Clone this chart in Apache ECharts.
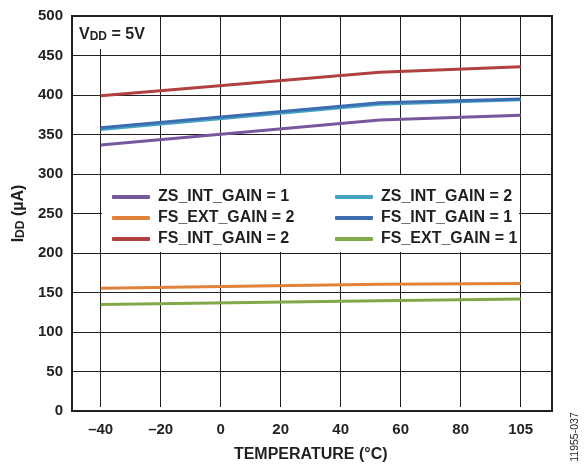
<!DOCTYPE html>
<html>
<head>
<meta charset="utf-8">
<script src="https://cdn.jsdelivr.net/npm/echarts@6/dist/echarts.min.js"></script>
<style>
  html, body { margin: 0; padding: 0; background: #fff; }
  #chart { width: 588px; height: 468px; }
</style>
</head>
<body>
<div id="chart"></div>
<script>
///////////////////////////////////////////////////
// Data
///////////////////////////////////////////////////

// x positions on the temperature axis (the last slot is labelled 105)
const tempPoints = [-40, 53, 100];
const xTickValues = [-40, -20, 0, 20, 40, 60, 80, 100];
const xTickLabels = ['–40', '–20', '0', '20', '40', '60', '80', '105'];

// I_DD in µA
const zsIntGain1 = [335, 367, 373];
const zsIntGain2 = [355, 387, 393];
const fsExtGain2 = [152, 157, 158];
const fsIntGain1 = [357, 389, 394];
const fsIntGain2 = [398, 428, 435];
const fsExtGain1 = [131, 136, 138];

const seriesNames = [
  'ZS_INT_GAIN = 1', 'ZS_INT_GAIN = 2',
  'FS_EXT_GAIN = 2', 'FS_INT_GAIN = 1',
  'FS_INT_GAIN = 2', 'FS_EXT_GAIN = 1',
];

///////////////////////////////////////////////////
// Chart
///////////////////////////////////////////////////
const ink = '#231f20';
const font = '"Liberation Sans", Arial, sans-serif';
const colors = {
  'ZS_INT_GAIN = 1': '#77589d',
  'ZS_INT_GAIN = 2': '#46a3c3',
  'FS_EXT_GAIN = 2': '#e0823a',
  'FS_INT_GAIN = 1': '#3d6db0',
  'FS_INT_GAIN = 2': '#b0413e',
  'FS_EXT_GAIN = 1': '#83a84a',
};

const pairs = ys => ys.map((y, i) => [tempPoints[i], y]);
const lineSeries = (name, ys) => ({
  name: name,
  type: 'line',
  xAxisIndex: 0,
  yAxisIndex: 0,
  data: pairs(ys),
  symbol: 'none',
  lineStyle: { width: 3, color: colors[name] },
  itemStyle: { color: colors[name] },
  z: 2,
});

const legendBase = {
  orient: 'vertical',
  top: 189,
  padding: 0,
  itemGap: 5,
  itemWidth: 38,
  itemHeight: 4,
  icon: 'roundRect',
  textStyle: { fontFamily: font, fontWeight: 'bold', fontSize: 16, color: ink, lineHeight: 16, padding: [0, 0, 0, 3] },
  selectedMode: false,
  z: 6,
};

const myChart = echarts.init(document.getElementById('chart'), null, { renderer: 'canvas' });

myChart.setOption({
  animation: false,
  backgroundColor: '#fff',
  grid: [
    // data grid: spans the -40 .. 105 gridlines
    { left: 100.7, right: 67.3, top: 16, bottom: 57, containLabel: false },
    // frame grid: box and y axis
    { left: 72, right: 36, top: 16, bottom: 57, show: true, borderColor: ink, borderWidth: 2, backgroundColor: 'transparent' },
  ],
  xAxis: [
    {
      gridIndex: 0,
      type: 'value',
      min: -40,
      max: 100,
      interval: 20,
      axisLine: { show: false },
      axisTick: { show: false },
      splitLine: { show: true, lineStyle: { color: ink, width: 1 } },
      axisLabel: {
        margin: 15,
        fontFamily: font,
        fontWeight: 'bold',
        fontSize: 15,
        color: ink,
        formatter: v => xTickLabels[xTickValues.indexOf(v)],
      },
      name: 'TEMPERATURE (°C)',
      nameLocation: 'middle',
      nameGap: 40,
      nameTextStyle: { fontFamily: font, fontWeight: 'bold', fontSize: 16, color: ink },
    },
    { gridIndex: 1, type: 'value', min: 0, max: 1, show: false },
  ],
  yAxis: [
    { gridIndex: 0, type: 'value', min: 0, max: 500, show: false },
    {
      gridIndex: 1,
      type: 'value',
      min: 0,
      max: 500,
      interval: 50,
      axisLine: { show: false },
      axisTick: { show: false },
      splitLine: { show: true, lineStyle: { color: ink, width: 1 } },
      axisLabel: { margin: 9, fontFamily: font, fontWeight: 'bold', fontSize: 15, color: ink },
      name: '{a|I}{b|DD}{a| (µA)}',
      nameLocation: 'middle',
      nameRotate: 90,
      nameGap: 42,
      nameTextStyle: {
        rich: {
          a: { fontFamily: font, fontWeight: 'bold', fontSize: 16, color: ink, lineHeight: 20, verticalAlign: 'bottom' },
          b: { fontFamily: font, fontWeight: 'bold', fontSize: 12, color: ink, lineHeight: 12, verticalAlign: 'bottom' },
        },
      },
    },
  ],
  legend: [
    Object.assign({}, legendBase, { left: 112, data: [seriesNames[0], seriesNames[2], seriesNames[4]] }),
    Object.assign({}, legendBase, { left: 335, data: [seriesNames[1], seriesNames[3], seriesNames[5]] }),
  ],
  graphic: [
    // white patch behind the legend
    { type: 'rect', shape: { x: 102, y: 175, width: 417, height: 77 }, style: { fill: '#fff' }, z: 3 },
    // VDD note
    { type: 'rect', shape: { x: 73, y: 17, width: 86, height: 32 }, style: { fill: '#fff' }, z: 3 },
    {
      type: 'text',
      x: 79,
      y: 33,
      z: 4,
      style: {
        text: '{a|V}{b|DD}{a| = 5V}',
        textVerticalAlign: 'middle',
        rich: {
          a: { fontFamily: font, fontWeight: 'bold', fontSize: 16, fill: ink, lineHeight: 20, verticalAlign: 'bottom' },
          b: { fontFamily: font, fontWeight: 'bold', fontSize: 12, fill: ink, lineHeight: 12, verticalAlign: 'bottom' },
        },
      },
    },
    {
      type: 'text',
      x: 575,
      y: 437,
      rotation: Math.PI / 2,
      style: { text: '11955-037', fontFamily: font, fontSize: 10.5, fill: ink, textAlign: 'center', textVerticalAlign: 'middle' },
    },
  ],
  series: [
    lineSeries('ZS_INT_GAIN = 1', zsIntGain1),
    lineSeries('FS_EXT_GAIN = 2', fsExtGain2),
    lineSeries('FS_INT_GAIN = 2', fsIntGain2),
    lineSeries('FS_EXT_GAIN = 1', fsExtGain1),
    lineSeries('ZS_INT_GAIN = 2', zsIntGain2),
    lineSeries('FS_INT_GAIN = 1', fsIntGain1),
  ],
});
</script>
</body>
</html>
